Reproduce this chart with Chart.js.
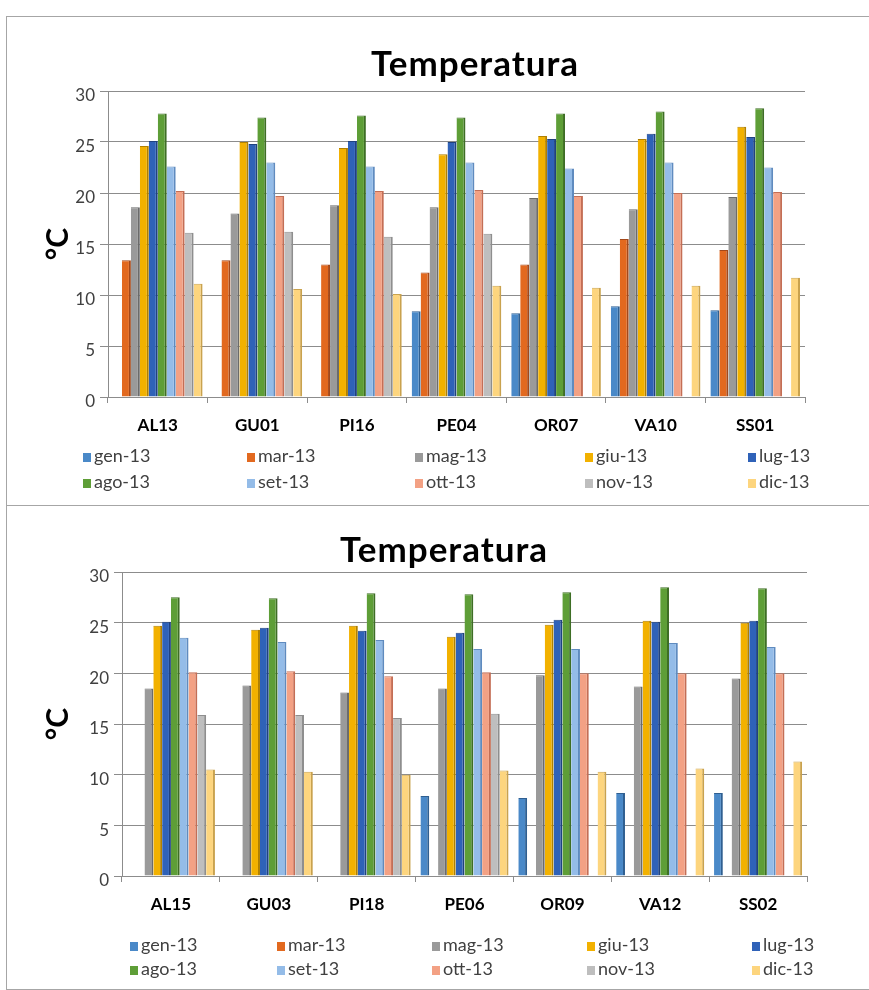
<!DOCTYPE html>
<html>
<head>
<meta charset="utf-8">
<script src="https://cdn.jsdelivr.net/npm/chart.js@4/dist/chart.umd.min.js"></script>
<style>
  body { margin: 0; background: #fff; font-family: Lato, sans-serif; }
  .box { position: absolute; left: 6px; width: 862px; border-left: 1px solid #a6a6a6; border-top: 1px solid #a6a6a6; }
  #box1 { top: 16px; height: 488px; }
  #box2 { top: 505px; height: 483px; border-bottom: 1px solid #a6a6a6; }
  .box canvas { position: absolute; left: 0; top: 0; }
  .titolo { position: absolute; width: 400px; text-align: center; font: bold 35px Lato, sans-serif; letter-spacing: 1px; line-height: 40px; color: #000; }
  #titolo1 { left: 268px; top: 25px; }
  #titolo2 { left: 237px; top: 22px; }
  .legend { position: absolute; display: grid; font-size: 18px; color: #404040; }
  #legend1 { left: 76px; top: 425px; grid-template-columns: 164px 168px 170px 163px 110px; line-height: 26px; }
  #legend2 { left: 123px; top: 426px; grid-template-columns: 147px 155px 155px 165px 110px; line-height: 24px; }
  .legend span.m { display: inline-block; width: 8px; height: 9px; margin-right: 3px; vertical-align: 0px; }
</style>
</head>
<body>
<div class="box" id="box1">
  <canvas id="chart1" width="862" height="488"></canvas>
  <div class="titolo" id="titolo1">Temperatura</div>
  <div class="legend" id="legend1"></div>
</div>
<div class="box" id="box2">
  <canvas id="chart2" width="862" height="483"></canvas>
  <div class="titolo" id="titolo2">Temperatura</div>
  <div class="legend" id="legend2"></div>
</div>
<script>
// Serie e stazioni
const mesi = ['gen-13', 'mar-13', 'mag-13', 'giu-13', 'lug-13', 'ago-13', 'set-13', 'ott-13', 'nov-13', 'dic-13'];
const coloriMesi = ['#4a89c8', '#e2691f', '#9a9a9a', '#f2b100', '#2f62b8', '#5e9e37', '#94bce8', '#f3a184', '#bebebe', '#fdd57e'];
const bordiMesi = ['#2f5f91', '#a3481a', '#6b6b6b', '#b08000', '#1f4280', '#3e6e25', '#5f8bbf', '#c46e55', '#8e8e8e', '#c9a24e'];
const yTicks = [0, 5, 10, 15, 20, 25, 30];

// Grafico 1
const stazioni1 = ['AL13', 'GU01', 'PI16', 'PE04', 'OR07', 'VA10', 'SS01'];
const gen1 = [null, null, null, 8.4, 8.2, 8.9, 8.5];
const mar1 = [13.4, 13.4, 13.0, 12.2, 13.0, 15.5, 14.4];
const mag1 = [18.6, 18.0, 18.8, 18.6, 19.5, 18.4, 19.6];
const giu1 = [24.6, 25.0, 24.4, 23.8, 25.6, 25.3, 26.5];
const lug1 = [25.1, 24.8, 25.1, 25.0, 25.3, 25.8, 25.5];
const ago1 = [27.8, 27.4, 27.6, 27.4, 27.8, 28.0, 28.3];
const set1 = [22.6, 23.0, 22.6, 23.0, 22.4, 23.0, 22.5];
const ott1 = [20.2, 19.7, 20.2, 20.3, 19.7, 20.0, 20.1];
const nov1 = [16.1, 16.2, 15.7, 16.0, null, null, null];
const dic1 = [11.1, 10.6, 10.1, 10.9, 10.7, 10.9, 11.7];

// Grafico 2
const stazioni2 = ['AL15', 'GU03', 'PI18', 'PE06', 'OR09', 'VA12', 'SS02'];
const gen2 = [null, null, null, 7.9, 7.7, 8.2, 8.2];
const mar2 = [null, null, null, null, null, null, null];
const mag2 = [18.5, 18.8, 18.1, 18.5, 19.8, 18.7, 19.5];
const giu2 = [24.7, 24.3, 24.7, 23.6, 24.8, 25.2, 25.0];
const lug2 = [25.1, 24.5, 24.2, 24.0, 25.3, 25.1, 25.2];
const ago2 = [27.5, 27.4, 27.9, 27.8, 28.0, 28.5, 28.4];
const set2 = [23.5, 23.1, 23.3, 22.4, 22.4, 23.0, 22.6];
const ott2 = [20.1, 20.2, 19.7, 20.1, 20.0, 20.0, 20.0];
const nov2 = [15.9, 15.9, 15.6, 16.0, null, null, null];
const dic2 = [10.5, 10.3, 10.0, 10.4, 10.3, 10.6, 11.3];

function creaGrafico(id, legendId, stazioni, serie, layout) {
  const datasets = serie.map((valori, i) => ({
    label: mesi[i],
    data: valori,
    backgroundColor: coloriMesi[i],
    borderColor: bordiMesi[i],
    borderWidth: { top: 1, right: 2, bottom: 0, left: 0 },
    categoryPercentage: 0.9,
    barPercentage: 1.0
  }));

  new Chart(document.getElementById(id), {
    type: 'bar',
    data: { labels: stazioni, datasets: datasets },
    options: {
      responsive: false,
      animation: false,
      layout: { padding: { left: 0, right: layout.right, top: layout.top, bottom: 0 } },
      plugins: {
        legend: { display: false },
        tooltip: { enabled: false },
        title: { display: false }
      },
      scales: {
        x: {
          grid: { drawOnChartArea: false, drawTicks: true, tickLength: 6, color: '#8c8c8c' },
          border: { color: '#8c8c8c' },
          ticks: { color: '#000', padding: 12, font: { family: 'Lato', size: 17, weight: 'bold' } },
          afterFit: s => { s.height = layout.xHeight; }
        },
        y: {
          min: 0,
          max: 30,
          afterBuildTicks: s => { s.ticks = yTicks.map(v => ({ value: v })); },
          grid: { color: '#8c8c8c', tickLength: 8 },
          border: { color: '#8c8c8c' },
          ticks: { color: '#404040', padding: 5, labelOffset: 5, font: { family: 'Lato', size: 17 } },
          title: {
            display: true,
            text: '°C',
            color: '#000',
            font: { family: 'Lato', size: 30, weight: 'bold' },
            padding: { top: layout.yTitlePad, bottom: 0 }
          },
          afterFit: s => { s.width = layout.yWidth; }
        }
      }
    }
  });

  // legenda a griglia, 5 colonne
  const leg = document.getElementById(legendId);
  mesi.forEach((m, i) => {
    const item = document.createElement('div');
    item.innerHTML = '<span class="m" style="background:' + coloriMesi[i] + '"></span>' + m;
    leg.appendChild(item);
  });
}

creaGrafico('chart1', 'legend1', stazioni1,
  [gen1, mar1, mag1, giu1, lug1, ago1, set1, ott1, nov1, dic1],
  { right: 64, top: 74, xHeight: 108, yWidth: 101, yTitlePad: 33 });

creaGrafico('chart2', 'legend2', stazioni2,
  [gen2, mar2, mag2, giu2, lug2, ago2, set2, ott2, nov2, dic2],
  { right: 62, top: 66, xHeight: 113, yWidth: 115, yTitlePad: 33 });
</script>
</body>
</html>
